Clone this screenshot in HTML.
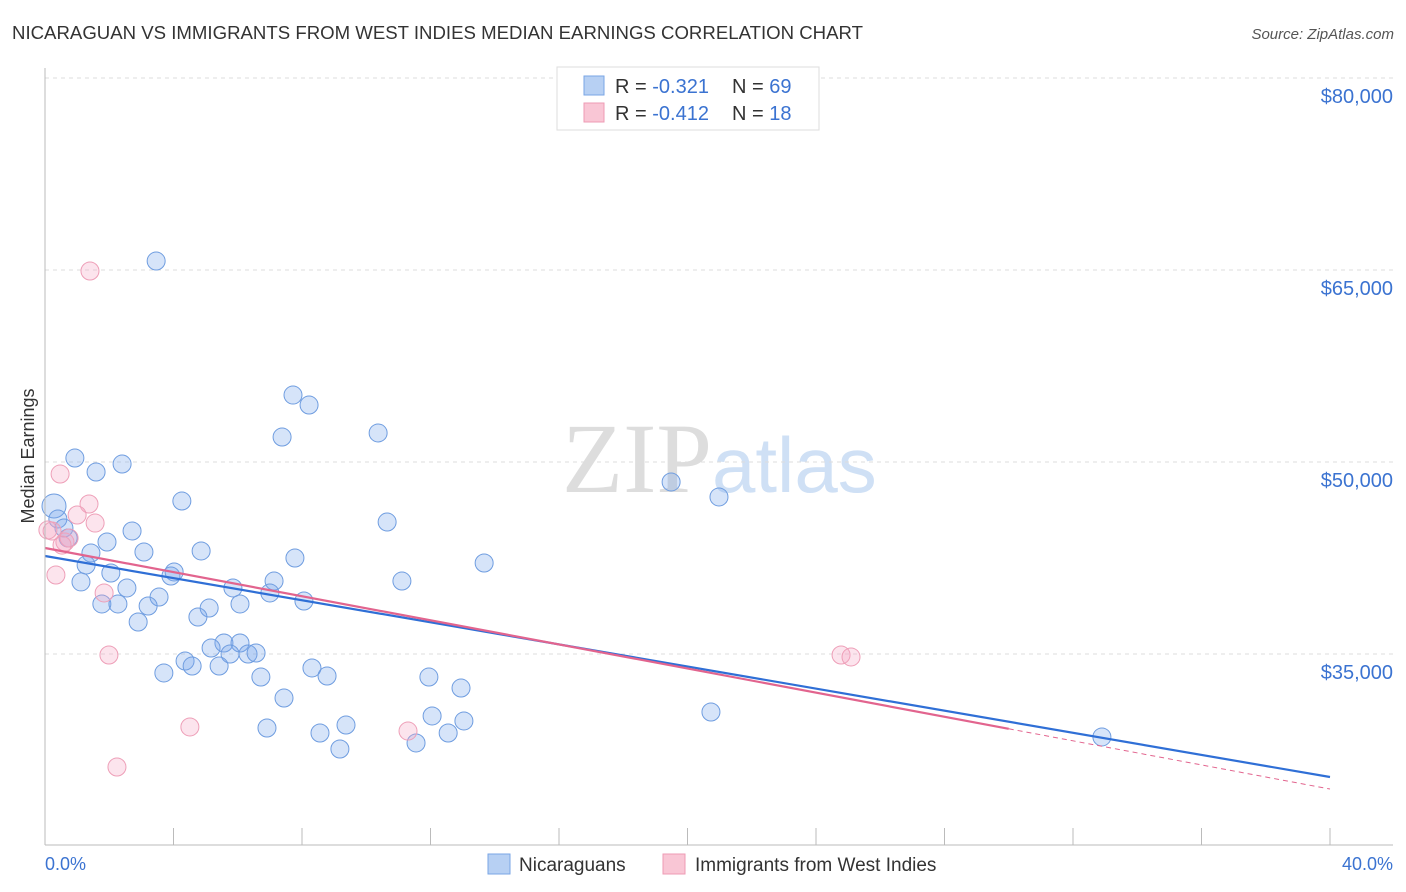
<!DOCTYPE html>
<html><head><meta charset="utf-8"><style>
body{margin:0;background:#fff;font-family:"Liberation Sans",sans-serif}
svg{display:block}
</style></head><body>
<svg width="1406" height="892" viewBox="0 0 1406 892" id="chart">
<text x="12" y="39" font-size="18" fill="#333" textLength="851" lengthAdjust="spacingAndGlyphs">NICARAGUAN VS IMMIGRANTS FROM WEST INDIES MEDIAN EARNINGS CORRELATION CHART</text>
<text x="1394" y="39" font-size="15" font-style="italic" fill="#555" text-anchor="end">Source: ZipAtlas.com</text>
<text transform="translate(34,456) rotate(-90)" font-size="18" fill="#333" text-anchor="middle">Median Earnings</text>
<text x="712" y="492" font-size="100" font-family="Liberation Serif,serif" fill="#ddd" text-anchor="end">ZIP</text>
<text x="712" y="492" font-size="78" fill="#cfe0f5">atlas</text>
<g id="grid"></g><g id="marks"></g>
<line x1="45" y1="68" x2="45" y2="845" stroke="#bbb"/>
<line x1="45" y1="845" x2="1393" y2="845" stroke="#bbb"/>
<text x="45" y="870" font-size="18" fill="#3b73d1">0.0%</text>
<text x="1393" y="870" font-size="18" fill="#3b73d1" text-anchor="end">40.0%</text>
<g>
<rect x="557" y="67" width="262" height="63" fill="#fff" stroke="#ddd"/>
<rect x="584" y="76" width="20" height="19" fill="#b7d0f3" stroke="#7aa6e6"/>
<rect x="584" y="103" width="20" height="19" fill="#f9c6d5" stroke="#ee9bb4"/>
<text x="615" y="93" font-size="20" fill="#333">R = <tspan fill="#3b73d1">-0.321</tspan><tspan x="732">N = </tspan><tspan fill="#3b73d1">69</tspan></text>
<text x="615" y="120" font-size="20" fill="#333">R = <tspan fill="#3b73d1">-0.412</tspan><tspan x="732">N = </tspan><tspan fill="#3b73d1"> 18</tspan></text>
</g>
<g>
<rect x="488" y="854" width="22" height="20" fill="#b7d0f3" stroke="#7aa6e6"/>
<text x="519" y="871" font-size="19" fill="#333">Nicaraguans</text>
<rect x="663" y="854" width="22" height="20" fill="#f9c6d5" stroke="#ee9bb4"/>
<text x="695" y="871" font-size="19" fill="#333">Immigrants from West Indies</text>
</g>
</svg>
<script>
const yTicks=[80000,65000,50000,35000];
const yTickLabels=["$80,000","$65,000","$50,000","$35,000"];
const xTickVals=[0,4,8,12,16,20,24,28,32,36,40];
const blueX=[3.46,7.72,8.22,7.38,10.37,0.93,2.40,1.59,4.26,19.49,20.98,0.28,0.40,0.59,10.65,2.71,0.72,1.93,1.43,3.08,4.86,7.78,13.67,1.28,2.05,4.02,3.92,1.12,7.13,11.11,2.55,5.85,7.00,3.55,1.77,2.27,3.21,5.11,6.07,8.06,4.76,2.90,5.57,6.07,5.17,5.76,6.32,6.57,4.36,5.42,4.58,3.70,8.31,6.72,8.78,11.95,12.95,7.44,12.05,20.73,13.04,9.37,6.91,8.56,12.55,9.18,11.55,32.90];
const blueY=[65700,55230,54450,51950,52270,50310,49840,49220,46950,48440,47270,46560,45550,44840,45310,44610,44060,43750,42890,42970,43050,42500,42110,41950,41330,41410,41090,40630,40700,40700,40160,40160,39770,39450,38910,38910,38750,38590,38910,39140,37890,37500,35860,35860,35470,35000,35000,35080,34450,34060,34060,33520,33910,33200,33280,33200,32340,31560,30160,30470,29770,29450,29220,28830,28830,27580,28050,28520];
const pinkX=[1.40,0.47,1.37,1.00,1.56,0.22,0.62,0.75,0.34,1.84,1.99,24.78,25.09,4.51,11.30,2.24,0.09,0.53];
const pinkY=[64920,49060,46720,45860,45230,44610,43750,44060,41170,39770,34920,34920,34770,29300,28980,26170,44690,43510];
const blueTrend=[42656,25390];
const pinkTrend=[43280,24450];
const pinkSolidEnd=30;
const NS="http://www.w3.org/2000/svg";
const xs=v=>45+v/40*1285;
const ys=v=>78+(80000-v)*0.0128;
const grid=document.getElementById('grid'),marks=document.getElementById('marks');
function mk(tag,attrs,parent){const e=document.createElementNS(NS,tag);for(const k in attrs)e.setAttribute(k,attrs[k]);parent.appendChild(e);return e;}
yTicks.forEach((v,i)=>{
 const l=mk('line',{x1:45,x2:1393,y1:ys(v),y2:ys(v),stroke:'#ddd','stroke-dasharray':'4,4'},grid);
 
 
 const t=mk('text',{x:1393,y:ys(v)+25,'font-size':20,fill:'#3b73d1','text-anchor':'end'},grid);
 t.textContent=yTickLabels[i];
 
 
});
xTickVals.forEach(v=>{
 const l=mk('line',{x1:xs(v),x2:xs(v),y1:828,y2:845,stroke:'#bbb'},grid);
 
 
});
blueX.forEach((x,i)=>{
 const c=mk('circle',{cx:xs(x),cy:ys(blueY[i]),r:i==11?12:9,fill:'rgba(120,165,235,0.3)',stroke:'#6f9de0','stroke-width':1},marks);
 
 
});
pinkX.forEach((x,i)=>{
 const c=mk('circle',{cx:xs(x),cy:ys(pinkY[i]),r:9,fill:'rgba(245,165,195,0.3)',stroke:'#ee9fb8','stroke-width':1},marks);
 
 
});
const bl=mk('line',{x1:xs(0),y1:ys(blueTrend[0]),x2:xs(40),y2:ys(blueTrend[1]),stroke:'#2f6fd6','stroke-width':2.2},marks);


const pAt=x=>pinkTrend[0]+(pinkTrend[1]-pinkTrend[0])*x/40;
const pl=mk('line',{x1:xs(0),y1:ys(pinkTrend[0]),x2:xs(pinkSolidEnd),y2:ys(pAt(pinkSolidEnd)),stroke:'#e2648e','stroke-width':2.2},marks);


const pd=mk('line',{x1:xs(pinkSolidEnd),y1:ys(pAt(pinkSolidEnd)),x2:xs(40),y2:ys(pinkTrend[1]),stroke:'#e2648e','stroke-width':1,'stroke-dasharray':'5,4'},marks);


</script>
</body></html>
